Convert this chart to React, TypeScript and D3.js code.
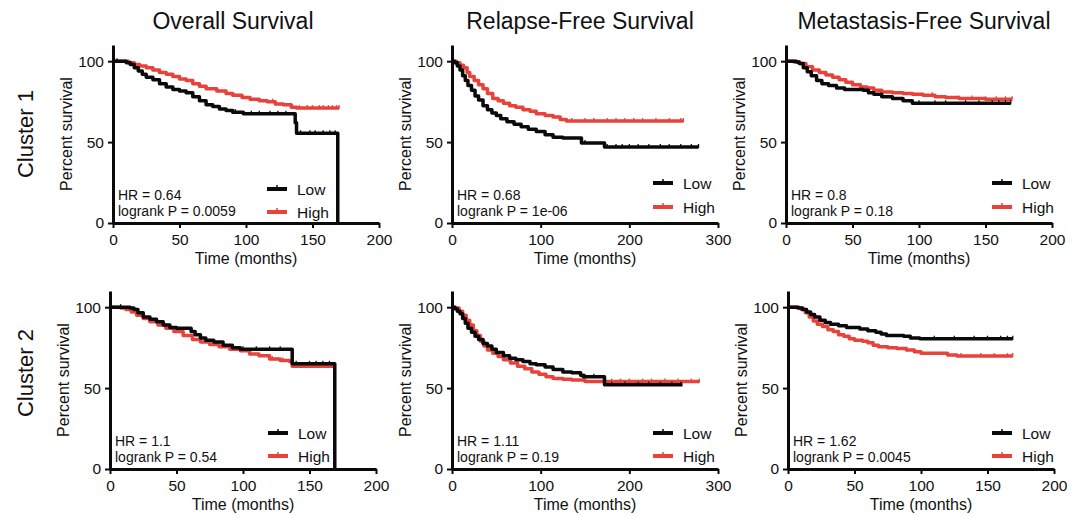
import React, { useEffect, useRef } from 'react';
import * as d3 from 'd3';

const W = 1083;
const H = 517;
const RED = '#e8433b';
const FONT = '"Liberation Sans", Arial, Helvetica, sans-serif';

const columnTitles = ['Overall Survival', 'Relapse-Free Survival', 'Metastasis-Free Survival'];
const rowTitles = ['Cluster 1', 'Cluster 2'];
const xMaxes = [200, 300, 200];
const xTickValues = [[0, 50, 100, 150, 200], [0, 100, 200, 300], [0, 50, 100, 150, 200]];
const yTickValues = [0, 50, 100];
const legendLabels = ['Low', 'High'];
const hrValues = ['0.64', '0.68', '0.8', '1.1', '1.11', '1.62'];
const pValues = ['0.0059', '1e-06', '0.18', '0.54', '0.19', '0.0045'];

// Kaplan-Meier steps: [time (months), percent survival]
const os1Low = [[0, 100], [8, 100], [10, 99], [13, 98], [16, 96], [19, 94], [22, 92], [25, 90], [30, 88.5], [35, 86], [40, 84], [45, 82.5], [50, 81.5], [55, 80.5], [60, 78], [65, 75.5], [70, 73], [75, 72], [80, 70.5], [85, 69.5], [90, 68.5], [98, 67.5], [136, 67.5], [137, 62], [138, 55.5], [169, 55.5], [169, 0]];
const os1High = [[0, 100], [8, 100], [12, 99], [16, 98], [20, 97], [25, 96], [30, 94.5], [35, 93], [40, 92], [45, 90.5], [50, 89], [55, 88], [60, 86], [65, 84.5], [70, 83], [78, 81.5], [85, 80], [90, 79], [97, 77.5], [103, 76.5], [110, 75.5], [116, 75], [122, 73.5], [128, 73], [134, 71.5], [138, 71], [170, 71]];
const rfs1Low = [[0, 100], [3, 99], [6, 97], [9, 94.5], [12, 91], [15, 88], [18, 85], [22, 82], [26, 78.5], [30, 76], [35, 72.5], [40, 70], [45, 68], [50, 66.5], [55, 64.5], [62, 62.5], [70, 61], [78, 59.5], [86, 58], [95, 56.5], [105, 54.5], [114, 53], [125, 52.5], [145, 52.5], [146, 49.5], [168, 49.5], [172, 47], [278, 47]];
const rfs1High = [[0, 100], [5, 99], [9, 97.5], [13, 96], [17, 93], [20, 90.5], [25, 88], [30, 85.5], [35, 83], [40, 80], [46, 77], [52, 75.5], [58, 74], [65, 72.5], [72, 71.5], [80, 70], [88, 69], [95, 67.5], [105, 66.5], [114, 65.5], [122, 64], [129, 63], [261, 63]];
const mfs1Low = [[0, 100], [8, 99.5], [10, 98.5], [13, 96], [16, 93.5], [19, 91], [23, 88], [27, 86], [32, 85], [38, 83.5], [44, 82.5], [58, 82], [62, 80.5], [66, 79.5], [72, 78], [80, 77], [88, 75.5], [95, 74], [169, 74]];
const mfs1High = [[0, 100], [6, 99.5], [10, 98.5], [15, 96.5], [20, 94.5], [25, 93], [30, 91.5], [35, 90], [40, 88.5], [45, 87], [50, 85.5], [56, 84], [61, 83.5], [66, 82], [72, 81], [80, 80.5], [88, 80], [95, 79.5], [103, 79], [112, 78], [120, 77.5], [130, 77], [150, 76.5], [170, 76.5]];
const os2Low = [[0, 100], [12, 100], [15, 99.5], [18, 98.5], [21, 96.5], [25, 94], [30, 92.5], [35, 91], [40, 89], [45, 87.5], [50, 87], [58, 87], [61, 85], [64, 83], [68, 81], [72, 79.5], [78, 78.5], [85, 76.5], [92, 75], [98, 74], [136, 74], [137, 65], [169, 65], [169, 0]];
const os2High = [[0, 100], [8, 99.5], [12, 98.5], [16, 97], [20, 95], [25, 93], [30, 91], [36, 89], [42, 87], [48, 85], [55, 82.5], [62, 80], [68, 78.5], [75, 77], [82, 75.5], [90, 74], [98, 73], [105, 71], [112, 70], [120, 68], [128, 67], [135, 66.5], [137, 63.5], [169, 63.5]];
const rfs2Low = [[0, 100], [3, 99], [6, 97.5], [9, 96], [12, 93], [15, 90], [18, 87], [22, 84.5], [26, 82], [30, 80], [35, 77.5], [40, 76], [45, 74], [50, 72], [58, 70], [65, 68.5], [72, 67.5], [80, 66.5], [88, 65], [95, 64.5], [105, 63], [114, 61.5], [125, 60], [135, 59.5], [145, 58], [148, 57], [170, 57], [172, 52], [260, 52]];
const rfs2High = [[0, 100], [4, 99.5], [8, 97.5], [12, 95], [16, 92], [20, 89], [24, 85.5], [28, 82.5], [32, 79], [36, 76], [40, 73.5], [46, 71.5], [52, 69.5], [58, 67.5], [66, 65.5], [74, 63.5], [82, 62], [90, 60], [98, 58.5], [106, 57], [114, 56], [125, 55.5], [135, 55], [150, 54], [279, 54]];
const mfs2Low = [[0, 100], [8, 99.5], [11, 98.5], [14, 97], [17, 95.5], [20, 94], [24, 92], [28, 90.5], [32, 89.5], [38, 88.5], [44, 87.5], [54, 86.5], [60, 85.5], [66, 84.5], [70, 83.5], [74, 82.5], [87, 82], [92, 81], [99, 80.5], [169, 80.5]];
const mfs2High = [[0, 100], [7, 99.5], [10, 98.5], [13, 96.5], [16, 94], [19, 91.5], [22, 89.5], [26, 88], [30, 86], [34, 85], [38, 83], [42, 82], [46, 80.5], [50, 79.5], [56, 79], [60, 78], [64, 76.5], [68, 75.5], [75, 75], [82, 74.5], [89, 73.5], [95, 72.5], [100, 71.5], [114, 71.5], [120, 70.5], [127, 69.8], [169, 69.8]];

// censor marks (months)
const os1LowCensor = [3, 92, 104, 110, 118, 124, 130, 141, 148, 152, 158, 163, 167];
const os1HighCensor = [120, 135, 140, 146, 150, 155, 158, 162, 165, 168, 170];
const rfs1LowCensor = [150, 175, 185, 192, 200, 210, 222, 235, 245, 258, 270, 278];
const rfs1HighCensor = [135, 150, 160, 175, 185, 195, 205, 215, 230, 245, 258, 261];
const mfs1LowCensor = [100, 112, 120, 135, 145, 155, 160, 165, 169];
const mfs1HighCensor = [110, 130, 140, 150, 158, 165, 170];
const os2LowCensor = [8, 100, 110, 120, 128, 140, 150, 155, 160, 165];
const os2HighCensor = [122, 130, 145, 155, 162];
const rfs2LowCensor = [150, 160, 180, 195, 210, 222, 235, 248, 258];
const rfs2HighCensor = [180, 190, 200, 215, 225, 240, 255, 270, 279];
const mfs2LowCensor = [110, 125, 140, 150, 160, 165, 169];
const mfs2HighCensor = [130, 145, 155, 165, 169];

const panels = [
  { low: os1Low, high: os1High, lowC: os1LowCensor, highC: os1HighCensor },
  { low: rfs1Low, high: rfs1High, lowC: rfs1LowCensor, highC: rfs1HighCensor },
  { low: mfs1Low, high: mfs1High, lowC: mfs1LowCensor, highC: mfs1HighCensor },
  { low: os2Low, high: os2High, lowC: os2LowCensor, highC: os2HighCensor },
  { low: rfs2Low, high: rfs2High, lowC: rfs2LowCensor, highC: rfs2HighCensor },
  { low: mfs2Low, high: mfs2High, lowC: mfs2LowCensor, highC: mfs2HighCensor },
];

// layout
const plotLefts = [[113, 452, 786], [110, 452, 788]];
const plotBottoms = [223, 469];
const plotW = 266;
const plotH = 178;
const titleX = [233, 580, 924];
const rowLabelY = [134, 373];
const legendDx = [154, 201, 206, 158, 201, 204];
const legendDy = [[-34, -11], [-40, -16], [-40, -16], [-36, -13], [-36, -13], [-36, -13]];

const App = () => {
  const svgRef = useRef<SVGSVGElement>(null);

  useEffect(() => {
    const svg = d3.select(svgRef.current);
    svg.selectAll('*').remove();

    svg.append('rect').attr('width', W).attr('height', H).attr('fill', 'white');

    // column titles
    columnTitles.forEach((t, i) => {
      svg.append('text')
        .attr('x', titleX[i]).attr('y', 29)
        .attr('text-anchor', 'middle')
        .style('font-size', '23px')
        .text(t);
    });

    // row labels
    rowTitles.forEach((t, r) => {
      svg.append('text')
        .attr('transform', `translate(33,${rowLabelY[r]}) rotate(-90)`)
        .attr('text-anchor', 'middle')
        .style('font-size', '22px')
        .text(t);
    });

    panels.forEach((p, i) => {
      const r = Math.floor(i / 3);
      const c = i % 3;
      const left = plotLefts[r][c];
      const bottom = plotBottoms[r];

      const x = d3.scaleLinear().domain([0, xMaxes[c]]).range([left, left + plotW]);
      const y = d3.scaleLinear().domain([0, 110]).range([bottom, bottom - plotH]);

      const g = svg.append('g');

      const line = d3.line<number[]>()
        .curve(d3.curveStepAfter)
        .x(d => x(d[0]))
        .y(d => y(d[1]));

      const bis = d3.bisector((d: number[]) => d[0]).right;
      const surv = (data: number[][], t: number) => data[Math.max(0, bis(data, t) - 1)][1];

      const series = [
        { data: p.high, censor: p.highC, color: RED },
        { data: p.low, censor: p.lowC, color: '#0a0a0a' },
      ];

      series.forEach(s => {
        g.append('path')
          .attr('d', line(s.data))
          .attr('fill', 'none')
          .attr('stroke', s.color)
          .attr('stroke-width', 3.5)
          .attr('stroke-linejoin', 'round');
        g.selectAll(null)
          .data(s.censor)
          .enter()
          .append('line')
          .attr('x1', d => x(d)).attr('x2', d => x(d))
          .attr('y1', d => y(surv(s.data, d)) - 3)
          .attr('y2', d => y(surv(s.data, d)) + 1)
          .attr('stroke', s.color)
          .attr('stroke-width', 1.3);
      });

      // axes
      const xAxis = g.append('g')
        .attr('transform', `translate(0,${bottom})`)
        .call(d3.axisBottom(x).tickValues(xTickValues[c]).tickSize(5).tickSizeOuter(0).tickPadding(6));
      const yAxis = g.append('g')
        .attr('transform', `translate(${left},0)`)
        .call(d3.axisLeft(y).tickValues(yTickValues).tickSize(5).tickSizeOuter(0).tickPadding(4));

      [xAxis, yAxis].forEach(a => {
        a.select('.domain').attr('stroke', '#0a0a0a').attr('stroke-width', 3);
        a.selectAll('.tick line').attr('stroke', '#0a0a0a').attr('stroke-width', 2);
        a.selectAll('.tick text')
          .style('font-size', '15.5px');
      });

      // axis titles
      g.append('text')
        .attr('x', left + plotW / 2).attr('y', bottom + 41)
        .attr('text-anchor', 'middle')
        .style('font-size', '16px')
        .text('Time (months)');
      g.append('text')
        .attr('transform', `translate(${left - 41},${bottom - plotH / 2}) rotate(-90)`)
        .attr('text-anchor', 'middle')
        .style('font-size', '16px')
        .text('Percent survival');

      // stats
      g.append('text')
        .attr('x', left + 5).attr('y', bottom - 23)
        .style('font-size', '14px')
        .text(`HR = ${hrValues[i]}`);
      g.append('text')
        .attr('x', left + 5).attr('y', bottom - 7)
        .style('font-size', '14px')
        .text(`logrank P = ${pValues[i]}`);

      // legend
      legendLabels.forEach((lab, k) => {
        const ly = bottom + legendDy[i][k];
        const lx = left + legendDx[i];
        const col = k === 0 ? '#0a0a0a' : RED;
        g.append('line')
          .attr('x1', lx).attr('x2', lx + 20)
          .attr('y1', ly).attr('y2', ly)
          .attr('stroke', col).attr('stroke-width', 4);
        g.append('line')
          .attr('x1', lx + 10).attr('x2', lx + 10)
          .attr('y1', ly - 4).attr('y2', ly)
          .attr('stroke', col).attr('stroke-width', 1.5);
        g.append('text')
          .attr('x', lx + 30).attr('y', ly + 5.5)
          .style('font-size', '15.5px')
          .text(lab);
      });
    });

    svg.selectAll('text').attr('fill', '#111').style('font-family', FONT);
  }, []);

  return (
    <div style={{ position: 'absolute', left: 0, top: 0 }}>
      <svg ref={svgRef} width={W} height={H} style={{ display: 'block' }}></svg>
    </div>
  );
};

export default App;
